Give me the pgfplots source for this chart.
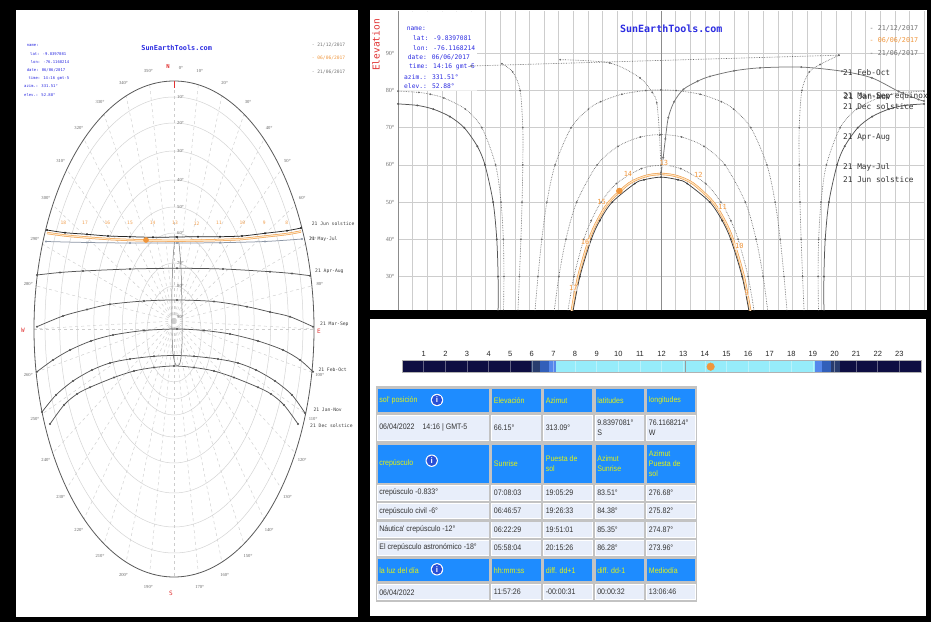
\documentclass[border=0pt]{standalone}
\usepackage{pgfplots}
\pgfplotsset{compat=1.18}
\usepackage{fontspec}
\setmainfont{Liberation Sans}
\newfontfamily\mono{DejaVu Sans Mono}
\newfontfamily\serif{Liberation Serif}
\newfontfamily\tbl{Liberation Sans}[FakeStretch=0.88]
\definecolor{navyb}{RGB}{14,14,66}
\definecolor{tw1}{RGB}{40,60,110}
\definecolor{tw2}{RGB}{50,95,185}
\definecolor{tw3}{RGB}{85,135,235}
\definecolor{daysky}{RGB}{150,236,250}
\definecolor{sunorange}{RGB}{240,150,60}
\definecolor{lightorange}{RGB}{252,228,195}
\definecolor{hdrblue}{RGB}{30,140,255}
\definecolor{hdrtext}{RGB}{225,242,20}
\definecolor{cellbg}{RGB}{232,238,250}
\definecolor{tblgray}{RGB}{195,195,195}
\definecolor{infoblue}{RGB}{45,45,225}
\definecolor{pathgray}{RGB}{85,85,85}
\definecolor{dotgray}{RGB}{105,105,105}
\definecolor{gridc}{RGB}{205,205,205}
\definecolor{ringc}{RGB}{212,212,212}
\definecolor{iconblue}{RGB}{40,80,215}
\definecolor{labred}{RGB}{225,50,50}
\pgfplotsset{
  dotp/.style={dotgray, densely dotted, line width=0.65pt, mark=*, mark size=0.5pt, mark options={solid}, smooth},
  solp/.style={pathgray, line width=0.75pt, mark=*, mark size=0.55pt, smooth},
}
\newcommand{\hcell}[5]{\fill[hdrblue] (#1,#3) rectangle (#2,#4);
  \node[anchor=west, text=hdrtext, font=\tbl\fontsize{8}{10}\selectfont, align=left, inner sep=1.5pt] at (#1,{(#3+#4)/2}) {#5};}
\newcommand{\dcell}[5]{\fill[white] ({#1-0.8},{#3-0.8}) rectangle ({#2+0.8},{#4+0.8});
  \fill[cellbg] (#1,#3) rectangle (#2,#4);
  \node[anchor=west, text=black!80, font=\tbl\fontsize{8}{10}\selectfont, align=left, inner sep=1.5pt] at (#1,{(#3+#4)/2}) {#5};}
\newcommand{\icon}[2]{\fill[white] (#1,#2) circle (6.2); \fill[iconblue] (#1,#2) circle (5.2);
  \node[text=white, font=\bfseries\fontsize{8}{8}\selectfont, inner sep=0] at (#1,#2) {i};}
\newcommand{\olab}[3]{\node[font=\mono\fontsize{7}{7}\selectfont, text=sunorange, inner sep=0.5pt, fill=white, fill opacity=0.6, text opacity=1] at (axis cs:#1,#2) {#3};}
\begin{document}
\begin{tikzpicture}[x=1pt,y=1pt]
\fill[black] (0,0) rectangle (931,622);
\fill[white] (16,5) rectangle (357.5,612);
\fill[white] (369.5,312) rectangle (927,612);
\fill[white] (370,6) rectangle (926,303);
\coordinate (LA) at (16,5);
\coordinate (RA) at (398,312);
\coordinate (TA) at (402.1,249.3);

% ================= LEFT PANEL (sky chart) =================
\begin{scope}
\clip (16,5) rectangle (357.5,612);
\begin{scope}[shift={(174,293)}]
 \foreach \c/\b in {4/228,4/202,7/171,7.5/141.5,7/115,5/91,-2/68,-5/48}
   \draw[ringc, line width=0.5pt] (0,\c) ellipse [x radius={0.566*\b}, y radius=\b];
 \foreach \t in {0,10,20,30,40,50,60,70,80,90,100,110,120,130,140,150,160,170,180,190,200,210,220,230,240,250,260,270,280,290,300,310,320,330,340,350}
   \draw[gridc, dashed, line width=0.45pt] (0,8) -- ({140*sin(\t)},{248*cos(\t)});
 \draw[gridc, dashed, line width=0.45pt] (-140,0) -- (140,0);
 \draw[black!65, line width=0.8pt] (0,0) ellipse [x radius=140, y radius=248];
 \foreach \t in {10,20,30,40,50,60,70,80,100,110,120,130,140,150,160,170,190,200,210,220,230,240,250,260,280,290,300,310,320,330,340,350}
   \node[font=\serif\fontsize{4.6}{5}\selectfont, text=black!60, inner sep=0] at ({148*sin(\t)},{262*cos(\t)}) {\t°};
 \node[font=\serif\fontsize{4.6}{5}\selectfont, text=black!60, inner sep=0] at (7,261) {0°};
 \draw[labred, line width=0.8pt] (0,248) -- (0,241);
\end{scope}
\foreach \e/\yy in {10/525,20/499,30/471,40/442,50/415,60/389,70/359,80/336,90/305}
  \node[anchor=west, font=\serif\fontsize{4.6}{5}\selectfont, text=black!60, inner sep=0] at (177,\yy) {\e°};
\node[font=\mono\bfseries\fontsize{5.5}{6}\selectfont, text=labred, inner sep=0] at (168,556) {N};
\node[font=\mono\fontsize{6}{6}\selectfont, text=labred, inner sep=0] at (171,29) {S};
\node[font=\mono\fontsize{6}{6}\selectfont, text=labred, inner sep=0] at (23,292) {W};
\node[font=\mono\fontsize{6}{6}\selectfont, text=labred, inner sep=0] at (319,291) {E};
\foreach \lab/\xx/\yy in {{21 Jun  solstice}/311.7/398.7,{21 May-Jul}/309/382.7,{21 Apr-Aug}/315/350.3,{21 Mar-Sep}/320/298,{21 Feb-Oct}/318.3/252,{21 Jan-Nov}/313.3/212,{21 Dec  solstice}/310/196}
  \node[anchor=west, font=\mono\fontsize{4.7}{5}\selectfont, text=black!75, inner sep=0] at (\xx,\yy) {\lab};
\foreach \h/\xx in {18/63.3,17/85,16/107.3,15/130,14/152.7,13/175,12/196.7,11/219,10/242.3,9/264.3,8/286.7}
  \node[font=\mono\fontsize{4.6}{5}\selectfont, text=sunorange!90, inner sep=0] at (\xx,398.7) {\h};
\end{scope}

\begin{axis}[at={(LA)}, anchor=south west, scale only axis, width=341.5pt, height=607pt,
  xmin=-158, xmax=183.5, ymin=-288, ymax=319, hide axis]
\addplot[solp] coordinates {(-137,54)(-114,56.5)(-91,58)(-44,60)(3,60.7)(49,60)(96,57.3)(118,55.5)(136,53.3)};
\addplot[solp] coordinates {(-137,2.3)(-111,13)(-87,19.5)(-64,24.7)(-30,28)(3,29)(40,27.5)(73,22.3)(96,17)(116,12.3)(139,2.3)};
\addplot[solp] coordinates {(-137,-42.7)(-121,-31)(-104,-21)(-83,-12)(-61,-6)(-30,-1.5)(3,0)(30,-1.5)(56,-5)(84,-12)(109,-21)(126,-31)(139,-42.7)};
\addplot[solp] coordinates {(-132,-83)(-118,-66)(-101,-52)(-82,-41)(-64,-34)(-44,-30)(-20,-27.3)(0,-26.5)(20,-27.3)(44,-30)(64,-34)(82,-41)(101,-52)(118,-66)(131,-84)};
\addplot[solp] coordinates {(-124,-95)(-110,-76)(-97,-65)(-84,-58.3)(-60,-48.5)(-40,-42)(-20,-38.5)(0,-37)(20,-38.5)(40,-42)(60,-48.5)(84,-58.3)(97,-65)(110,-76)(124,-95)};
\addplot[black!55, line width=0.5pt, smooth] coordinates {(1,92)(-1,70)(-2,40)(-2,0)(-1,-25)(2,-36)(6,-34)(8,-15)(8,20)(7,60)(5,85)(3,92)(1,92)};
\addplot[solp, color={rgb,255:red,140;green,150;blue,165}] coordinates {(-128,87.5)(-87,86.5)(-44,86)(3,86)(46,86.3)(91,87.5)(128,90)};
\addplot[sunorange, line width=2.2pt, smooth] coordinates {(-127,96)(-109,93.5)(-87,91.5)(-66,90)(-44,89)(-21,88.5)(3,88.3)(24,88.5)(46,89)(68,90)(91,92.5)(113,95)(127,97.5)};
\addplot[lightorange, line width=1.2pt, smooth] coordinates {(-127,96)(-109,93.5)(-87,91.5)(-66,90)(-44,89)(-21,88.5)(3,88.3)(24,88.5)(46,89)(68,90)(91,92.5)(113,95)(127,97.5)};
\addplot[solp, color=black!85] coordinates {(-127,99)(-109,96.3)(-87,94.7)(-66,93)(-44,92.3)(-21,91.7)(3,92)(24,92.3)(46,92.3)(68,93)(91,95.7)(113,98.3)(127,101)};
\addplot[only marks, mark=*, mark size=2.6pt, color=sunorange] coordinates {(-28,89)};
\end{axis}

\node[font=\mono\bfseries\fontsize{6.9}{7}\selectfont, text=infoblue] at (176.7,573.7) {SunEarthTools.com};
\foreach \lab/\xx/\yy in {{name:}/26.7/576.5,{lat: -9.8397081}/30/568.3,{lon: -76.1168214}/30.7/560.1,{date: 06/06/2017}/26.7/551.9,{time: 14:16 gmt-5}/28.3/543.7,{azim.: 331.51°}/24/535.5,{elev.: 52.88°}/24/527.3}
  \node[anchor=west, font=\mono\fontsize{3.9}{4}\selectfont, text=infoblue, inner sep=0] at (\xx,\yy) {\lab};
\node[anchor=west, font=\mono\fontsize{4.6}{5}\selectfont, text=black!55, inner sep=0] at (311.7,577) {- 21/12/2017};
\node[anchor=west, font=\mono\fontsize{4.6}{5}\selectfont, text=sunorange, inner sep=0] at (311.7,563.7) {- 06/06/2017};
\node[anchor=west, font=\mono\fontsize{4.6}{5}\selectfont, text=black!55, inner sep=0] at (311.7,550.3) {- 21/06/2017};

% ================= TOP RIGHT PANEL (elevation chart) =================
\begin{axis}[at={(RA)}, anchor=south west, scale only axis,
  width=526pt, height=298.7pt, xmin=-180, xmax=180, ymin=21, ymax=101.3,
  axis line style={draw=none}, tick style={draw=none},
  xtick={-180,-170,...,180}, xticklabels={},
  ytick={30,40,...,90}, yticklabels={30°,40°,50°,60°,70°,80°,90°},
  yticklabel style={font=\serif\fontsize{6.2}{7}\selectfont, text=black!55},
  grid=major, major grid style={gridc, line width=0.5pt}]
\addplot[fill=white, draw=none] coordinates {(-180,80)(-126,80)(-126,101.3)(-180,101.3)(-180,80)};
\draw[black!45, line width=0.7pt] (axis cs:0,21) -- (axis cs:0,101.3);
\draw[black!45, line width=0.6pt] (axis cs:-180,21) -- (axis cs:-180,101.3);
\addplot[dotp] coordinates {(-64,20)(-59.6,30)(-52.8,40)(-47.8,45)(-41,50)(-30.5,55)(-13.5,59)(0,59.86)(13.5,59)(30.5,55)(41,50)(47.8,45)(52.8,40)(59.6,30)(64,20)};
\addplot[dotp] coordinates {(-73.3,20)(-69.9,30)(-65.1,40)(-57.7,50)(-43.75,60)(-29.4,65)(-14.1,67.5)(0,68.16)(14.1,67.5)(29.4,65)(43.75,60)(57.7,50)(65.1,40)(69.9,30)(73.3,20)};
\addplot[dotp] coordinates {(-86.4,20)(-84.2,30)(-81.6,40)(-78.1,50)(-72.5,60)(-61.5,70)(-49.7,75)(-41.3,77)(-26.8,79)(-10.4,80)(0,80.16)(10.4,80)(26.8,79)(41.3,77)(49.7,75)(61.5,70)(72.5,60)(78.1,50)(81.6,40)(84.2,30)(86.4,20)};
\addplot[dotp] coordinates {(98,20)(96.9,30)(95.9,40)(95.1,50)(94.6,60)(94.6,70)(96.4,80)(101.5,85)(108.9,87)(121.8,89.5)};
\addplot[dotp, smooth=false] coordinates {(121.8,89.5)(-130,86.6)};
\addplot[dotp] coordinates {(-108.9,87.2)(-101.5,85)(-96.4,80)(-94.6,70)(-94.6,60)(-95.1,50)(-95.9,40)(-96.9,30)(-98,20)};
\addplot[dotp] coordinates {(-180,79.84)(-165.7,79.5)(-157.9,79)(-148.6,78)(-133.9,75)(-122.6,70)(-113.2,60)(-109.5,50)(-107.9,40)(-107.5,30)(-107.8,20)};
\addplot[dotp] coordinates {(107.8,20)(107.5,30)(107.9,40)(109.5,50)(113.2,60)(122.6,70)(133.9,75)(148.6,78)(157.9,79)(165.7,79.5)(180,79.84)};
\addplot[dotp] coordinates {(-69,88.3)(-35,87.4)(-14.4,83.4)(-6,79.5)(-2.9,76.7)(-1,68)(0,58)};
\addplot[solp, color=black!55] coordinates {(0,57.5)(1.5,62)(3,67)(5,72.7)(9,77)(15.3,80.3)(25,82.5)(33.5,83.8)(50,85.3)(67.8,86.1)(96,86.3)(123.8,85.2)(144.3,83.4)(162.5,79.8)(176.2,77.6)(180,77.2)};
\addplot[solp] coordinates {(-180,76.4)(-166.8,76)(-155.9,75)(-144.5,73)(-134.7,70)(-125.7,65)(-120.5,60)(-114.9,50)(-112.4,40)(-111.5,30)(-111.5,20)};
\addplot[solp] coordinates {(111.5,20)(111.5,30)(112.4,40)(114.9,50)(120.5,60)(125.7,65)(134.7,70)(144.5,73)(155.9,75)(166.8,76)(180,76.4)};
\addplot[sunorange, line width=2.3pt, smooth] coordinates {(-61.4,20)(-56.6,30)(-49.1,40)(-43.5,45)(-35.6,50)(-21.9,55)(-10.5,57)(0,57.56)(10.5,57)(21.9,55)(35.6,50)(43.5,45)(49.1,40)(56.6,30)(61.4,20)};
\addplot[lightorange, line width=1.2pt, smooth] coordinates {(-61.4,20)(-56.6,30)(-49.1,40)(-43.5,45)(-35.6,50)(-21.9,55)(-10.5,57)(0,57.56)(10.5,57)(21.9,55)(35.6,50)(43.5,45)(49.1,40)(56.6,30)(61.4,20)};
\addplot[solp, color=black!75] coordinates {(-60.5,20)(-55.5,30)(-47.7,40)(-41.9,45)(-33.4,50)(-17.9,55)(-11.7,56)(0,56.72)(11.7,56)(17.9,55)(33.4,50)(41.9,45)(47.7,40)(55.5,30)(60.5,20)};
\addplot[only marks, mark=*, mark size=3pt, color=sunorange] coordinates {(-28.5,53)};
\olab{2}{60.4}{13}
\olab{-22.6}{57.7}{14}
\olab{-40.6}{50}{15}
\olab{-52}{39.2}{16}
\olab{-60}{27}{17}
\olab{25.5}{57.3}{12}
\olab{42.2}{48.6}{11}
\olab{53.6}{38.1}{10}
\olab{58.7}{25.5}{9}
\end{axis}

\node[rotate=90, font=\mono\fontsize{9.5}{10}\selectfont, text=labred] at (376,577) {Elevation};
\node[font=\mono\bfseries\fontsize{10}{10}\selectfont, text=infoblue] at (671.3,593) {SunEarthTools.com};
\foreach \lab/\xx/\yy in {{name:}/406.7/593,{lat: -9.8397081}/413/583.7,{lon: -76.1168214}/413/574.3,{date: 06/06/2017}/407.7/564.7,{time: 14:16 gmt-5}/409/555.3,{azim.: 331.51°}/404/545.3,{elev.: 52.88°}/404/536}
  \node[anchor=west, font=\mono\fontsize{6.3}{7}\selectfont, text=infoblue, inner sep=0] at (\xx,\yy) {\lab};
\node[anchor=west, font=\mono\fontsize{6.7}{7}\selectfont, text=black!55, inner sep=0] at (869.5,593.7) {- 21/12/2017};
\node[anchor=west, font=\mono\fontsize{6.7}{7}\selectfont, text=sunorange, inner sep=0] at (869.5,581.3) {- 06/06/2017};
\node[anchor=west, font=\mono\fontsize{6.7}{7}\selectfont, text=black!55, inner sep=0] at (869.5,568.7) {- 21/06/2017};
\begin{scope}[every node/.style={anchor=west, font=\mono\fontsize{7.8}{8}\selectfont, text=black!80, inner sep=0}]
\node at (843,549.7) {21 Feb-Oct};
\node at (843,525.3) {21 Mar-Sep equinox};
\node at (843.6,525.8) {21 Jan-Nov};
\node at (843,515.3) {21 Dec  solstice};
\node at (843,484.7) {21 Apr-Aug};
\node at (843,454.7) {21 May-Jul};
\node at (843,442.7) {21 Jun  solstice};
\end{scope}

% ================= BOTTOM RIGHT PANEL =================
\begin{axis}[at={(TA)}, anchor=south west, scale only axis, width=518.9pt, height=12pt,
  xmin=0, xmax=24, ymin=0, ymax=1, hide axis, clip=false]
\addplot[fill=navyb, draw=none] coordinates {(0,1)(5.97,1)} \closedcycle;
\addplot[fill=tw1, draw=none] coordinates {(5.97,1)(6.37,1)} \closedcycle;
\addplot[fill=tw2, draw=none] coordinates {(6.37,1)(6.78,1)} \closedcycle;
\addplot[fill=tw3, draw=none] coordinates {(6.78,1)(7.13,1)} \closedcycle;
\addplot[fill=daysky, draw=none] coordinates {(7.13,1)(19.09,1)} \closedcycle;
\addplot[fill=tw3, draw=none] coordinates {(19.09,1)(19.44,1)} \closedcycle;
\addplot[fill=tw2, draw=none] coordinates {(19.44,1)(19.85,1)} \closedcycle;
\addplot[fill=tw1, draw=none] coordinates {(19.85,1)(20.26,1)} \closedcycle;
\addplot[fill=navyb, draw=none] coordinates {(20.26,1)(24,1)} \closedcycle;
\pgfplotsinvokeforeach{1,...,23}{
  \draw[white, opacity=0.35, line width=0.6pt] (axis cs:#1,0) -- (axis cs:#1,1);
  \node[font=\fontsize{7.5}{8}\selectfont, text=black!85, inner sep=0] at (axis cs:#1,1.53) {#1};
}
\draw[black!40, line width=0.4pt] (axis cs:13.1,0) -- (axis cs:13.1,1);
\draw[black!30, line width=0.5pt] (axis cs:0,0) rectangle (axis cs:24,1);
\addplot[only marks, mark=*, mark size=3.8pt, color=sunorange] coordinates {(14.27,0.5)};
\end{axis}

% table
\fill[tblgray] (375.8,20.3) rectangle (697.3,236);
\hcell{377.6}{488.6}{210.3}{232.7}{sol' posición}
\hcell{492.2}{540.5}{210.3}{232.7}{Elevación}
\hcell{544.1}{592}{210.3}{232.7}{Azimut}
\hcell{595.6}{643.6}{210.3}{232.7}{latitudes}
\hcell{647.2}{694.7}{210.3}{232.7}{longitudes}
\icon{437}{222}
\dcell{377.6}{488.6}{182}{206.3}{06/04/2022\quad 14:16 | GMT-5}
\dcell{492.2}{540.5}{182}{206.3}{66.15°}
\dcell{544.1}{592}{182}{206.3}{313.09°}
\dcell{595.6}{643.6}{182}{206.3}{9.8397081°\\S}
\dcell{647.2}{694.7}{182}{206.3}{76.1168214°\\W}
\hcell{377.6}{488.6}{139.3}{177}{crepúsculo}
\hcell{492.2}{540.5}{139.3}{177}{Sunrise}
\hcell{544.1}{592}{139.3}{177}{Puesta de\\sol}
\hcell{595.6}{643.6}{139.3}{177}{Azimut\\Sunrise}
\hcell{647.2}{694.7}{139.3}{177}{Azimut\\Puesta de\\sol}
\icon{431.7}{161.3}
\dcell{377.6}{488.6}{122}{136.3}{crepúsculo -0.833°}
\dcell{492.2}{540.5}{122}{136.3}{07:08:03}
\dcell{544.1}{592}{122}{136.3}{19:05:29}
\dcell{595.6}{643.6}{122}{136.3}{83.51°}
\dcell{647.2}{694.7}{122}{136.3}{276.68°}
\dcell{377.6}{488.6}{103.7}{118}{crepúsculo civil -6°}
\dcell{492.2}{540.5}{103.7}{118}{06:46:57}
\dcell{544.1}{592}{103.7}{118}{19:26:33}
\dcell{595.6}{643.6}{103.7}{118}{84.38°}
\dcell{647.2}{694.7}{103.7}{118}{275.82°}
\dcell{377.6}{488.6}{85.3}{99.7}{Náutica' crepúsculo -12°}
\dcell{492.2}{540.5}{85.3}{99.7}{06:22:29}
\dcell{544.1}{592}{85.3}{99.7}{19:51:01}
\dcell{595.6}{643.6}{85.3}{99.7}{85.35°}
\dcell{647.2}{694.7}{85.3}{99.7}{274.87°}
\dcell{377.6}{488.6}{67}{81.3}{El crepúsculo astronómico -18°}
\dcell{492.2}{540.5}{67}{81.3}{05:58:04}
\dcell{544.1}{592}{67}{81.3}{20:15:26}
\dcell{595.6}{643.6}{67}{81.3}{86.28°}
\dcell{647.2}{694.7}{67}{81.3}{273.96°}
\hcell{377.6}{488.6}{41}{62.7}{la luz del día}
\hcell{492.2}{540.5}{41}{62.7}{hh:mm:ss}
\hcell{544.1}{592}{41}{62.7}{diff. dd+1}
\hcell{595.6}{643.6}{41}{62.7}{diff. dd-1}
\hcell{647.2}{694.7}{41}{62.7}{Mediodía}
\icon{437}{52.7}
\dcell{377.6}{488.6}{22.7}{37}{06/04/2022}
\dcell{492.2}{540.5}{22.7}{37}{11:57:26}
\dcell{544.1}{592}{22.7}{37}{-00:00:31}
\dcell{595.6}{643.6}{22.7}{37}{00:00:32}
\dcell{647.2}{694.7}{22.7}{37}{13:06:46}
\end{tikzpicture}
\end{document}
